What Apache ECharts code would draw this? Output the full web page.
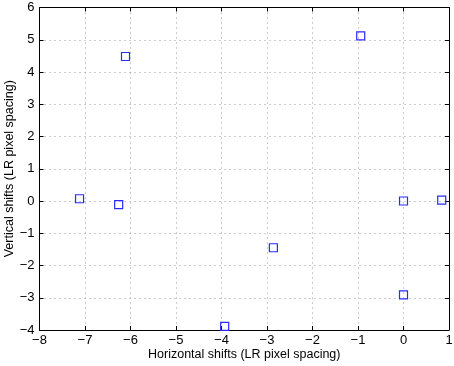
<!DOCTYPE html>
<html><head><meta charset="utf-8">
<script src="https://cdn.jsdelivr.net/npm/echarts@6/dist/echarts.min.js"></script>
<style>html,body{margin:0;padding:0;background:#fff}#c{width:454px;height:366px}</style>
</head><body><div id="c"></div>
<script>
var xShifts = [-6.11, -0.94, -7.12, -6.26, -2.86, 0.0, -3.93, 0.0, 0.84];
var yShifts = [4.48, 5.12, 0.07, -0.11, -1.45, -2.91, -3.89, 0.0, 0.03];
var xLabel = 'Horizontal shifts (LR pixel spacing)';
var yLabel = 'Vertical shifts (LR pixel spacing)';
var pts = xShifts.map(function(x,i){return [x, yShifts[i]];});
var fmt = function(v){ return String(v).replace('-', '\u2212'); };
var font = 'Liberation Sans, Arial, sans-serif';
var chart = echarts.init(document.getElementById('c'));
var tickStyle = {show:true, inside:true, length:4, lineStyle:{color:'#000'}};
chart.setOption({
  animation:false,
  grid:{left:39.5, right:5, top:7.5, bottom:36, containLabel:false, outerBoundsMode:'none'},
  xAxis:[{
    type:'value', min:-8, max:1, interval:1, position:'bottom',
    name:xLabel, nameLocation:'middle', nameGap:18, nameMoveOverlap:false,
    nameTextStyle:{fontFamily:font, fontSize:12.5, color:'#000'},
    axisLine:{onZero:false, lineStyle:{color:'#000', width:1}},
    axisTick:tickStyle,
    axisLabel:{formatter:fmt, fontFamily:font, fontSize:13, color:'#000', margin:4},
    splitLine:{show:true, lineStyle:{color:'#999', type:[1,4], width:1}}
  },{
    type:'value', min:-8, max:1, interval:1, position:'top',
    axisLine:{onZero:false, lineStyle:{color:'#000', width:1}},
    axisTick:tickStyle, axisLabel:{show:false}, splitLine:{show:false}
  }],
  yAxis:[{
    type:'value', min:-4, max:6, interval:1, position:'left',
    name:yLabel, nameLocation:'middle', nameGap:23, nameRotate:90, nameMoveOverlap:false,
    nameTextStyle:{fontFamily:font, fontSize:12.5, color:'#000'},
    axisLine:{onZero:false, lineStyle:{color:'#000', width:1}},
    axisTick:tickStyle,
    axisLabel:{formatter:fmt, fontFamily:font, fontSize:13, color:'#000', margin:5},
    splitLine:{show:true, lineStyle:{color:'#999', type:[1,4], width:1}}
  },{
    type:'value', min:-4, max:6, interval:1, position:'right',
    axisLine:{onZero:false, lineStyle:{color:'#000', width:1}},
    axisTick:tickStyle, axisLabel:{show:false}, splitLine:{show:false}
  }],
  series:[{
    type:'scatter', data:pts, symbol:'rect', symbolSize:8,
    itemStyle:{color:'rgba(0,0,0,0)', borderColor:'#2a2aff', borderWidth:1.2, opacity:1}
  }]
});
</script></body></html>
